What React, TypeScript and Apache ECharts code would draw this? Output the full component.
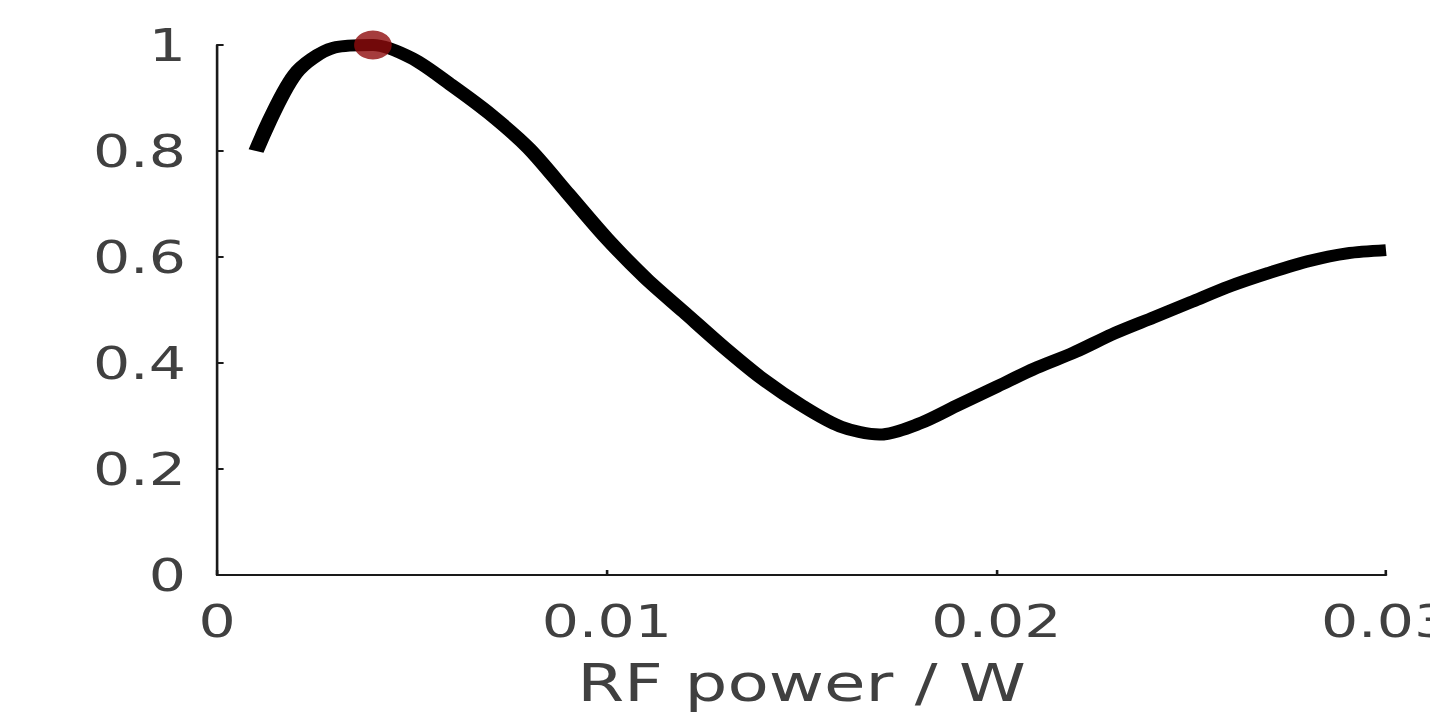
import React, { useEffect, useRef } from "react";
import * as echarts from "echarts";

// ---- data ----
const rfPower = [
  0.001, 0.002, 0.003, 0.004, 0.005, 0.006, 0.007, 0.008, 0.009, 0.01,
  0.011, 0.012, 0.013, 0.014, 0.015, 0.016, 0.017, 0.018, 0.019, 0.02,
  0.021, 0.022, 0.023, 0.024, 0.025, 0.026, 0.027, 0.028, 0.029, 0.03,
];
const response = [
  0.8, 0.945, 0.995, 1.0, 0.975, 0.925, 0.87, 0.805, 0.72, 0.635,
  0.56, 0.495, 0.43, 0.37, 0.32, 0.28, 0.265, 0.285, 0.32, 0.355,
  0.39, 0.42, 0.455, 0.485, 0.515, 0.545, 0.57, 0.592, 0.607, 0.613,
];
const optimumPoint = [0.004, 1.0];
const xTicks = [0, 0.01, 0.02, 0.03];
const yTicks = [0, 0.2, 0.4, 0.6, 0.8, 1];
const xAxisTitle = "RF power / W";

// ---- layout ----
const W = 1430;
const H = 717;
const STRETCH = 1.3; // the reference figure is horizontally stretched
const CW = W / STRETCH;

export default function App() {
  const ref = useRef<HTMLDivElement>(null);

  useEffect(() => {
    document.body.style.margin = "0";
    const chart = echarts.init(ref.current!, null, {
      renderer: "svg",
      width: CW,
      height: H,
    });
    const textColor = "#404040";
    const font = "DejaVu Sans";
    chart.setOption({
      animation: false,
      backgroundColor: "#ffffff",
      grid: {
        left: 167,
        right: CW - 1386 / STRETCH,
        top: 45,
        bottom: H - 575,
        containLabel: false,
        outerBoundsMode: "none",
      },
      xAxis: {
        type: "value",
        min: xTicks[0],
        max: xTicks[xTicks.length - 1],
        interval: xTicks[1] - xTicks[0],
        name: xAxisTitle,
        nameLocation: "middle",
        nameGap: 82,
        nameTextStyle: { color: textColor, fontSize: 52, fontFamily: font },
        axisLine: { show: true, lineStyle: { color: "#1a1a1a", width: 2 } },
        axisTick: { show: true, inside: true, length: 5, lineStyle: { color: "#1a1a1a", width: 2 } },
        axisLabel: { color: textColor, fontSize: 45, fontFamily: font, margin: 24, hideOverlap: false },
        splitLine: { show: false },
      },
      yAxis: {
        type: "value",
        min: yTicks[0],
        max: yTicks[yTicks.length - 1],
        interval: yTicks[1] - yTicks[0],
        axisLine: { show: true, lineStyle: { color: "#1a1a1a", width: 2 } },
        axisTick: { show: true, inside: true, length: 5, lineStyle: { color: "#1a1a1a", width: 2 } },
        axisLabel: { color: textColor, fontSize: 45, fontFamily: font, margin: 24 },
        splitLine: { show: false },
      },
      series: [
        {
          type: "line",
          data: rfPower.map((x, i) => [x, response[i]]),
          showSymbol: false,
          symbol: "none",
          smooth: 0.3,
          lineStyle: { color: "#000000", width: 12, cap: "butt", join: "round" },
          z: 2,
        },
        {
          type: "scatter",
          data: [optimumPoint],
          symbol: "circle",
          symbolSize: 29,
          itemStyle: { color: "#8e0b0d" },
          z: 3,
        },
      ],
    });
    return () => chart.dispose();
  }, []);

  return (
    <div
      style={{
        position: "fixed",
        left: 0,
        top: 0,
        width: W,
        height: H,
        overflow: "hidden",
        background: "#ffffff",
      }}
    >
      <div
        ref={ref}
        style={{
          width: CW,
          height: H,
          transform: `scaleX(${STRETCH})`,
          transformOrigin: "0 0",
        }}
      />
    </div>
  );
}
